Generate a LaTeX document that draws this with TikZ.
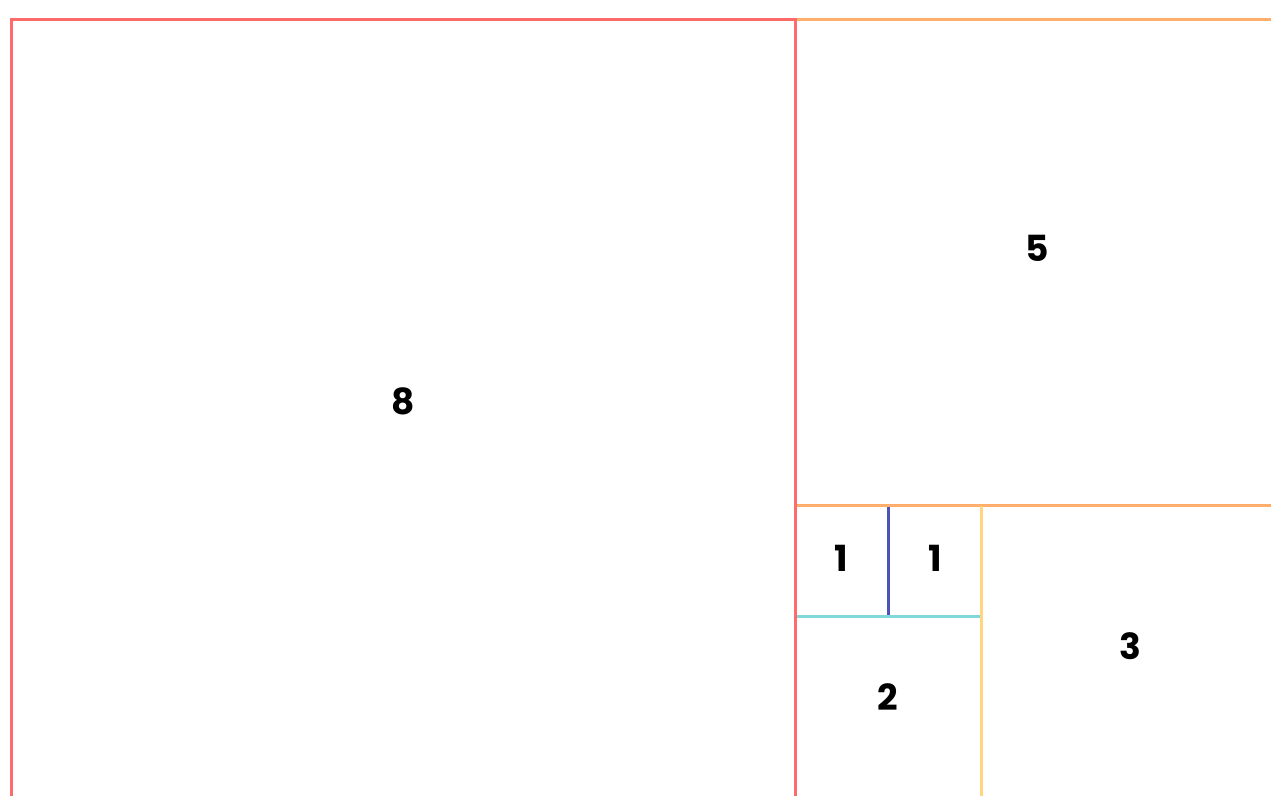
\documentclass[tikz,border=0pt]{standalone}
\usepackage{fontspec}
\setmainfont{Poppins}[BoldFont={* Bold}]
\definecolor{cred}{HTML}{FF6B6B}
\definecolor{corange}{HTML}{FFAE6B}
\definecolor{cyellow}{HTML}{FFD57E}
\definecolor{ccyan}{HTML}{80D8DC}
\definecolor{cblue}{HTML}{4A54B8}
\begin{document}
\begin{tikzpicture}[x=1pt,y=-1pt,
  edge/.style={line width=3pt},
  num/.style={font=\fontsize{36}{40}\selectfont\bfseries, inner sep=0pt}]
\useasboundingbox[fill=white] (0,0) rectangle (1271,796);
\draw[edge,corange] (795,19.5) -- (1271,19.5);
\draw[edge,corange] (795,505) -- (1271,505);
\draw[edge,cyellow] (981,506) -- (981,796);
\draw[edge,ccyan] (796,616.5) -- (980,616.5);
\draw[edge,cblue] (888,507) -- (888,615);
\draw[edge,cred,line join=miter] (11.5,796) -- (11.5,19.5) -- (795,19.5) -- (795,796);
\node[num] (n8) at (403,401) {8};
\node[num] (n5) at (1037,248) {5};
\node[num] (n1a) at (841,558) {1};
\node[num] (n1b) at (935,558) {1};
\node[num] (n3) at (1130,646) {3};
\node[num] (n2) at (888,697) {2};
\end{tikzpicture}
\end{document}
